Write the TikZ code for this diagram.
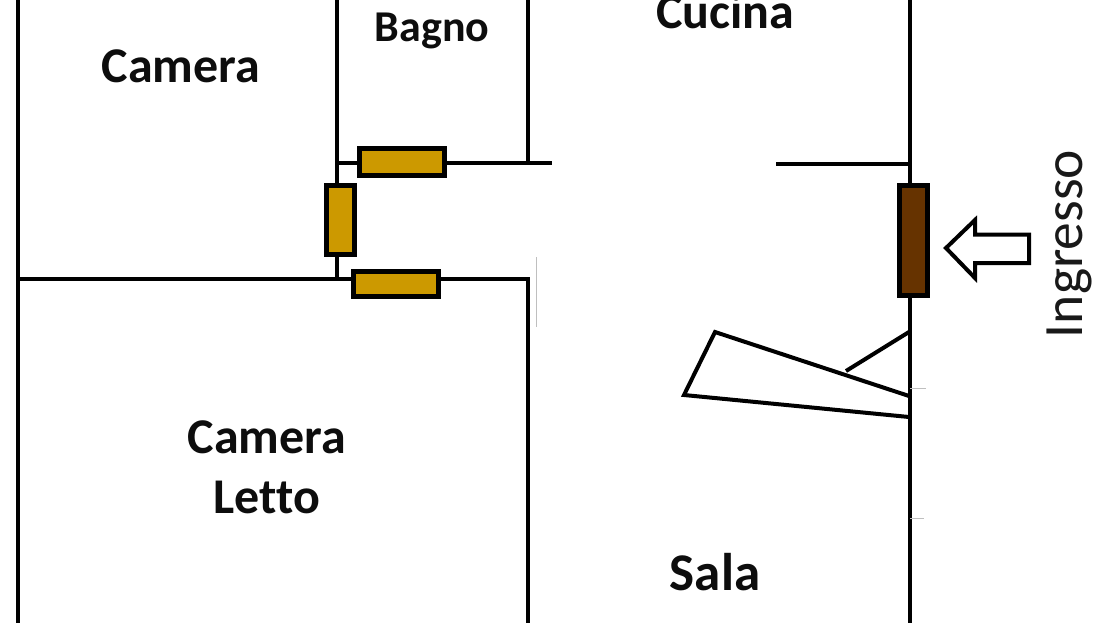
\documentclass[tikz,border=0pt]{standalone}
\usepackage{fontspec}
\setmainfont[Ligatures=NoCommon]{Carlito}
\tikzset{
  wall/.style={draw=black,line width=4.2pt},
  thin wall/.style={draw=black,line width=3.6pt},
  door/.style={draw=black,line width=5pt,line join=miter},
  gold door/.style={door,fill=doorgold},
  brown door/.style={door,fill=doorbrown},
  room/.style={inner sep=0pt,font=\fontsize{50}{60}\selectfont\bfseries,align=center,text=black!95},
  faint/.style={draw=black!25,line width=1pt}
}
\definecolor{doorgold}{RGB}{204,153,0}
\definecolor{doorbrown}{RGB}{102,51,0}
\begin{document}
\begin{tikzpicture}[x=1pt,y=-1pt]
\useasboundingbox (0,0) rectangle (1110,623);
\fill[white] (0,0) rectangle (1110,623);
% walls
\draw[wall] (18,0) -- (18,623);
\draw[wall] (18,279) -- (528,279) -- (528,623);
\draw[wall] (337,0) -- (337,279);
\draw[wall] (528,0) -- (528,163);
\draw[wall] (337,163) -- (552,163);
\draw[wall] (910,0) -- (910,623);
\draw[thin wall] (776,164) -- (910,164);
% faint marks
\draw[faint] (536,257) -- (536,327);
\draw[faint] (910,388) -- (926,388);
\draw[faint] (910,518) -- (924,518);
% doors
\draw[gold door] (359.5,148.5) rectangle (444.5,175);
\draw[gold door] (326.5,185.5) rectangle (354.5,254);
\draw[gold door] (353.5,271.5) rectangle (438.5,296.5);
\draw[brown door] (899.5,185.5) rectangle (927.5,295);
% entrance arrow
\draw[line width=4pt,line join=miter,fill=white]
  (946,248) -- (975,220) -- (975,234.5) -- (1029,234.5) -- (1029,263) -- (975,263) -- (975,278) -- cycle;
% swing door
\draw[line width=4pt] (909,396) -- (715,332) -- (684,395) -- (909,417);
\draw[line width=4pt] (846,371) -- (909,332);
% labels
\node[room] (camera) at (181,66) {Camera};
\node[room,font=\fontsize{44}{52}\selectfont\bfseries] (bagno) at (432,31) {Bagno};
\node[room] (cucina) at (725,11) {Cucina};
\node[room] (letto) at (267,467) {Camera\\Letto};
\node[room,font=\fontsize{53}{60}\selectfont\bfseries] (sala) at (715,572) {Sala};
\node[inner sep=0pt,rotate=90,font=\fontsize{55.5}{64}\selectfont,text=black!90] (ingresso) at (1069,244) {Ingresso};
\end{tikzpicture}
\end{document}
